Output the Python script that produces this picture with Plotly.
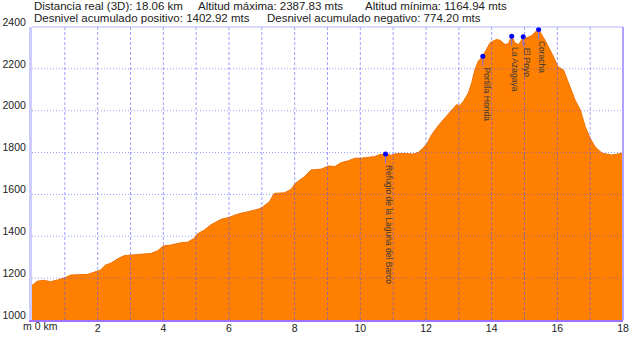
import plotly.graph_objects as go

# ---------------- data ----------------
dist_km = [0.0, 0.16, 0.36, 0.56, 0.77, 1.0, 1.18, 1.48, 1.69, 1.89, 2.09, 2.24, 2.40, 2.60, 2.80,
           3.0, 3.31, 3.62, 3.82, 4.0, 4.23, 4.53, 4.74, 4.94, 5.04, 5.25, 5.45, 5.76, 6.01, 6.27,
           6.57, 6.88, 7.01, 7.23, 7.38, 7.69, 7.89, 8.02, 8.30, 8.50, 8.81, 9.03, 9.22, 9.42,
           9.62, 9.83, 10.03, 10.44, 10.59, 10.77, 10.95, 11.03, 11.25, 11.56, 11.61, 11.76, 11.91,
           12.04, 12.17, 12.37, 12.57, 12.78, 12.93, 13.03, 13.14, 13.29, 13.39, 13.49, 13.59,
           13.73, 13.85, 13.95, 14.03, 14.15, 14.25, 14.41, 14.51, 14.61, 14.71, 14.82, 14.89,
           14.96, 15.07, 15.22, 15.32, 15.43, 15.53, 15.63, 15.83, 16.02, 16.19, 16.34, 16.54,
           16.70, 16.85, 17.00, 17.15, 17.36, 17.66, 17.97, 18.06]
elev_m = [1165, 1185, 1190, 1183, 1191, 1202, 1215, 1218, 1218, 1228, 1239, 1263, 1271, 1291, 1307,
          1310, 1313, 1318, 1330, 1354, 1358, 1369, 1372, 1390, 1411, 1430, 1455, 1481, 1491, 1506,
          1517, 1529, 1538, 1565, 1605, 1608, 1624, 1653, 1685, 1717, 1721, 1736, 1733, 1752,
          1760, 1773, 1773, 1781, 1790, 1793, 1787, 1793, 1796, 1791, 1793, 1800, 1821,
          1845, 1885, 1928, 1965, 2005, 2029, 2024, 2045, 2085, 2132, 2196, 2236,
          2260, 2292, 2324, 2332, 2340, 2337, 2316, 2321, 2356, 2324, 2316, 2332,
          2353, 2348, 2359, 2375, 2388, 2362, 2335, 2274, 2210, 2194, 2131, 2051,
          2003, 1924, 1868, 1828, 1797, 1788, 1797, 1795]

wp_names = ["Refugio de la Laguna del Barco", "Portilla Honda", "La Azagaya", "El Poyo", "Coracha"]
wp_km = [10.77, 13.73, 14.61, 14.96, 15.43]
wp_elev = [1793, 2260, 2356, 2353, 2388]

y_ticks = [1000, 1200, 1400, 1600, 1800, 2000, 2200, 2400]
x_ticks = [2, 4, 6, 8, 10, 12, 14, 16, 18]
x_tick_labels = ["2", "4", "6", "8", "10", "12", "14", "16", "18"]
x_grid = list(range(1, 18))
y_grid = [1200, 1400, 1600, 1800, 2000, 2200]

header_line1 = ["Distancia real (3D): 18.06 km", "Altitud máxima: 2387.83 mts", "Altitud mínima: 1164.94 mts"]
header_line2 = ["Desnivel acumulado positivo: 1402.92 mts", "Desnivel acumulado negativo: 774.20 mts"]

FONT = "Liberation Sans, Arial, sans-serif"
GRID = "rgba(80,80,255,0.55)"

fig = go.Figure()
fig.add_trace(go.Scatter(
    x=dist_km, y=elev_m, mode="lines", fill="tozeroy",
    fillcolor="#ff8000", line=dict(color="#f07000", width=1),
    hoverinfo="skip", showlegend=False))

fig.add_trace(go.Scatter(
    x=wp_km, y=wp_elev, mode="markers",
    marker=dict(color="#0000ff", size=5),
    error_y=dict(type="data", symmetric=False, array=[0] * len(wp_km),
                 arrayminus=[45] * len(wp_km), width=0, color="#7070ff", thickness=1),
    hoverinfo="skip", showlegend=False))

shapes = []
for xv in x_grid:
    shapes.append(dict(type="line", xref="x", yref="paper", x0=xv, x1=xv, y0=0, y1=1,
                       line=dict(color=GRID, width=1, dash="3px,2px"), layer="above"))
for yv in y_grid:
    shapes.append(dict(type="line", xref="paper", yref="y", x0=0, x1=1, y0=yv, y1=yv,
                       line=dict(color=GRID, width=1, dash="1px,2px"), layer="above"))
shapes.append(dict(type="line", xref="paper", yref="paper", x0=0, x1=1, y0=1, y1=1,
                   line=dict(color="#b8b8ff", width=1), layer="above"))
shapes.append(dict(type="line", xref="paper", yref="paper", x0=1, x1=1, y0=0, y1=1,
                   line=dict(color="#b0a0ff", width=2), layer="above"))

annotations = []
for name, xk, ye in zip(wp_names, wp_km, wp_elev):
    annotations.append(dict(x=xk, y=ye, xref="x", yref="y", text=name, showarrow=False,
                            textangle=90, xanchor="center", yanchor="top",
                            xshift=4, yshift=-9,
                            font=dict(family=FONT, size=8.5, color="#3a3a3a")))

h1_x = [0.0, 0.2775, 0.5605]
h2_x = [0.0, 0.3947]
for t, xp in zip(header_line1, h1_x):
    annotations.append(dict(x=xp, y=1.072, xref="paper", yref="paper", text=t, showarrow=False,
                            xanchor="left", yanchor="middle",
                            font=dict(family=FONT, size=11.5, color="#222222")))
for t, xp in zip(header_line2, h2_x):
    annotations.append(dict(x=xp, y=1.031, xref="paper", yref="paper", text=t, showarrow=False,
                            xanchor="left", yanchor="middle",
                            font=dict(family=FONT, size=11.5, color="#222222")))
annotations.append(dict(x=-0.018, y=-0.021, xref="paper", yref="paper", text="m 0 km",
                        showarrow=False, xanchor="left", yanchor="middle",
                        font=dict(family=FONT, size=10.5, color="#222222")))

fig.update_layout(
    width=640, height=337,
    margin=dict(l=32, r=17, t=27, b=17, pad=0),
    paper_bgcolor="white", plot_bgcolor="white",
    shapes=shapes, annotations=annotations,
    xaxis=dict(range=[0, 18], tickvals=x_ticks, ticktext=x_tick_labels, showgrid=False,
               zeroline=False, showline=True, linecolor="#a070ff", linewidth=2, ticks="",
               automargin=False, ticklabelstandoff=-3,
               tickfont=dict(family=FONT, size=10.5, color="#222222"), fixedrange=True),
    yaxis=dict(range=[1000, 2400], tickvals=y_ticks, showgrid=False, zeroline=False,
               showline=True, linecolor="#ccccff", linewidth=3, ticks="",
               automargin=False, ticklabelshift=-5, ticklabelstandoff=1,
               tickfont=dict(family=FONT, size=10.5, color="#222222"), fixedrange=True),
)

fig.write_html("out.html")
